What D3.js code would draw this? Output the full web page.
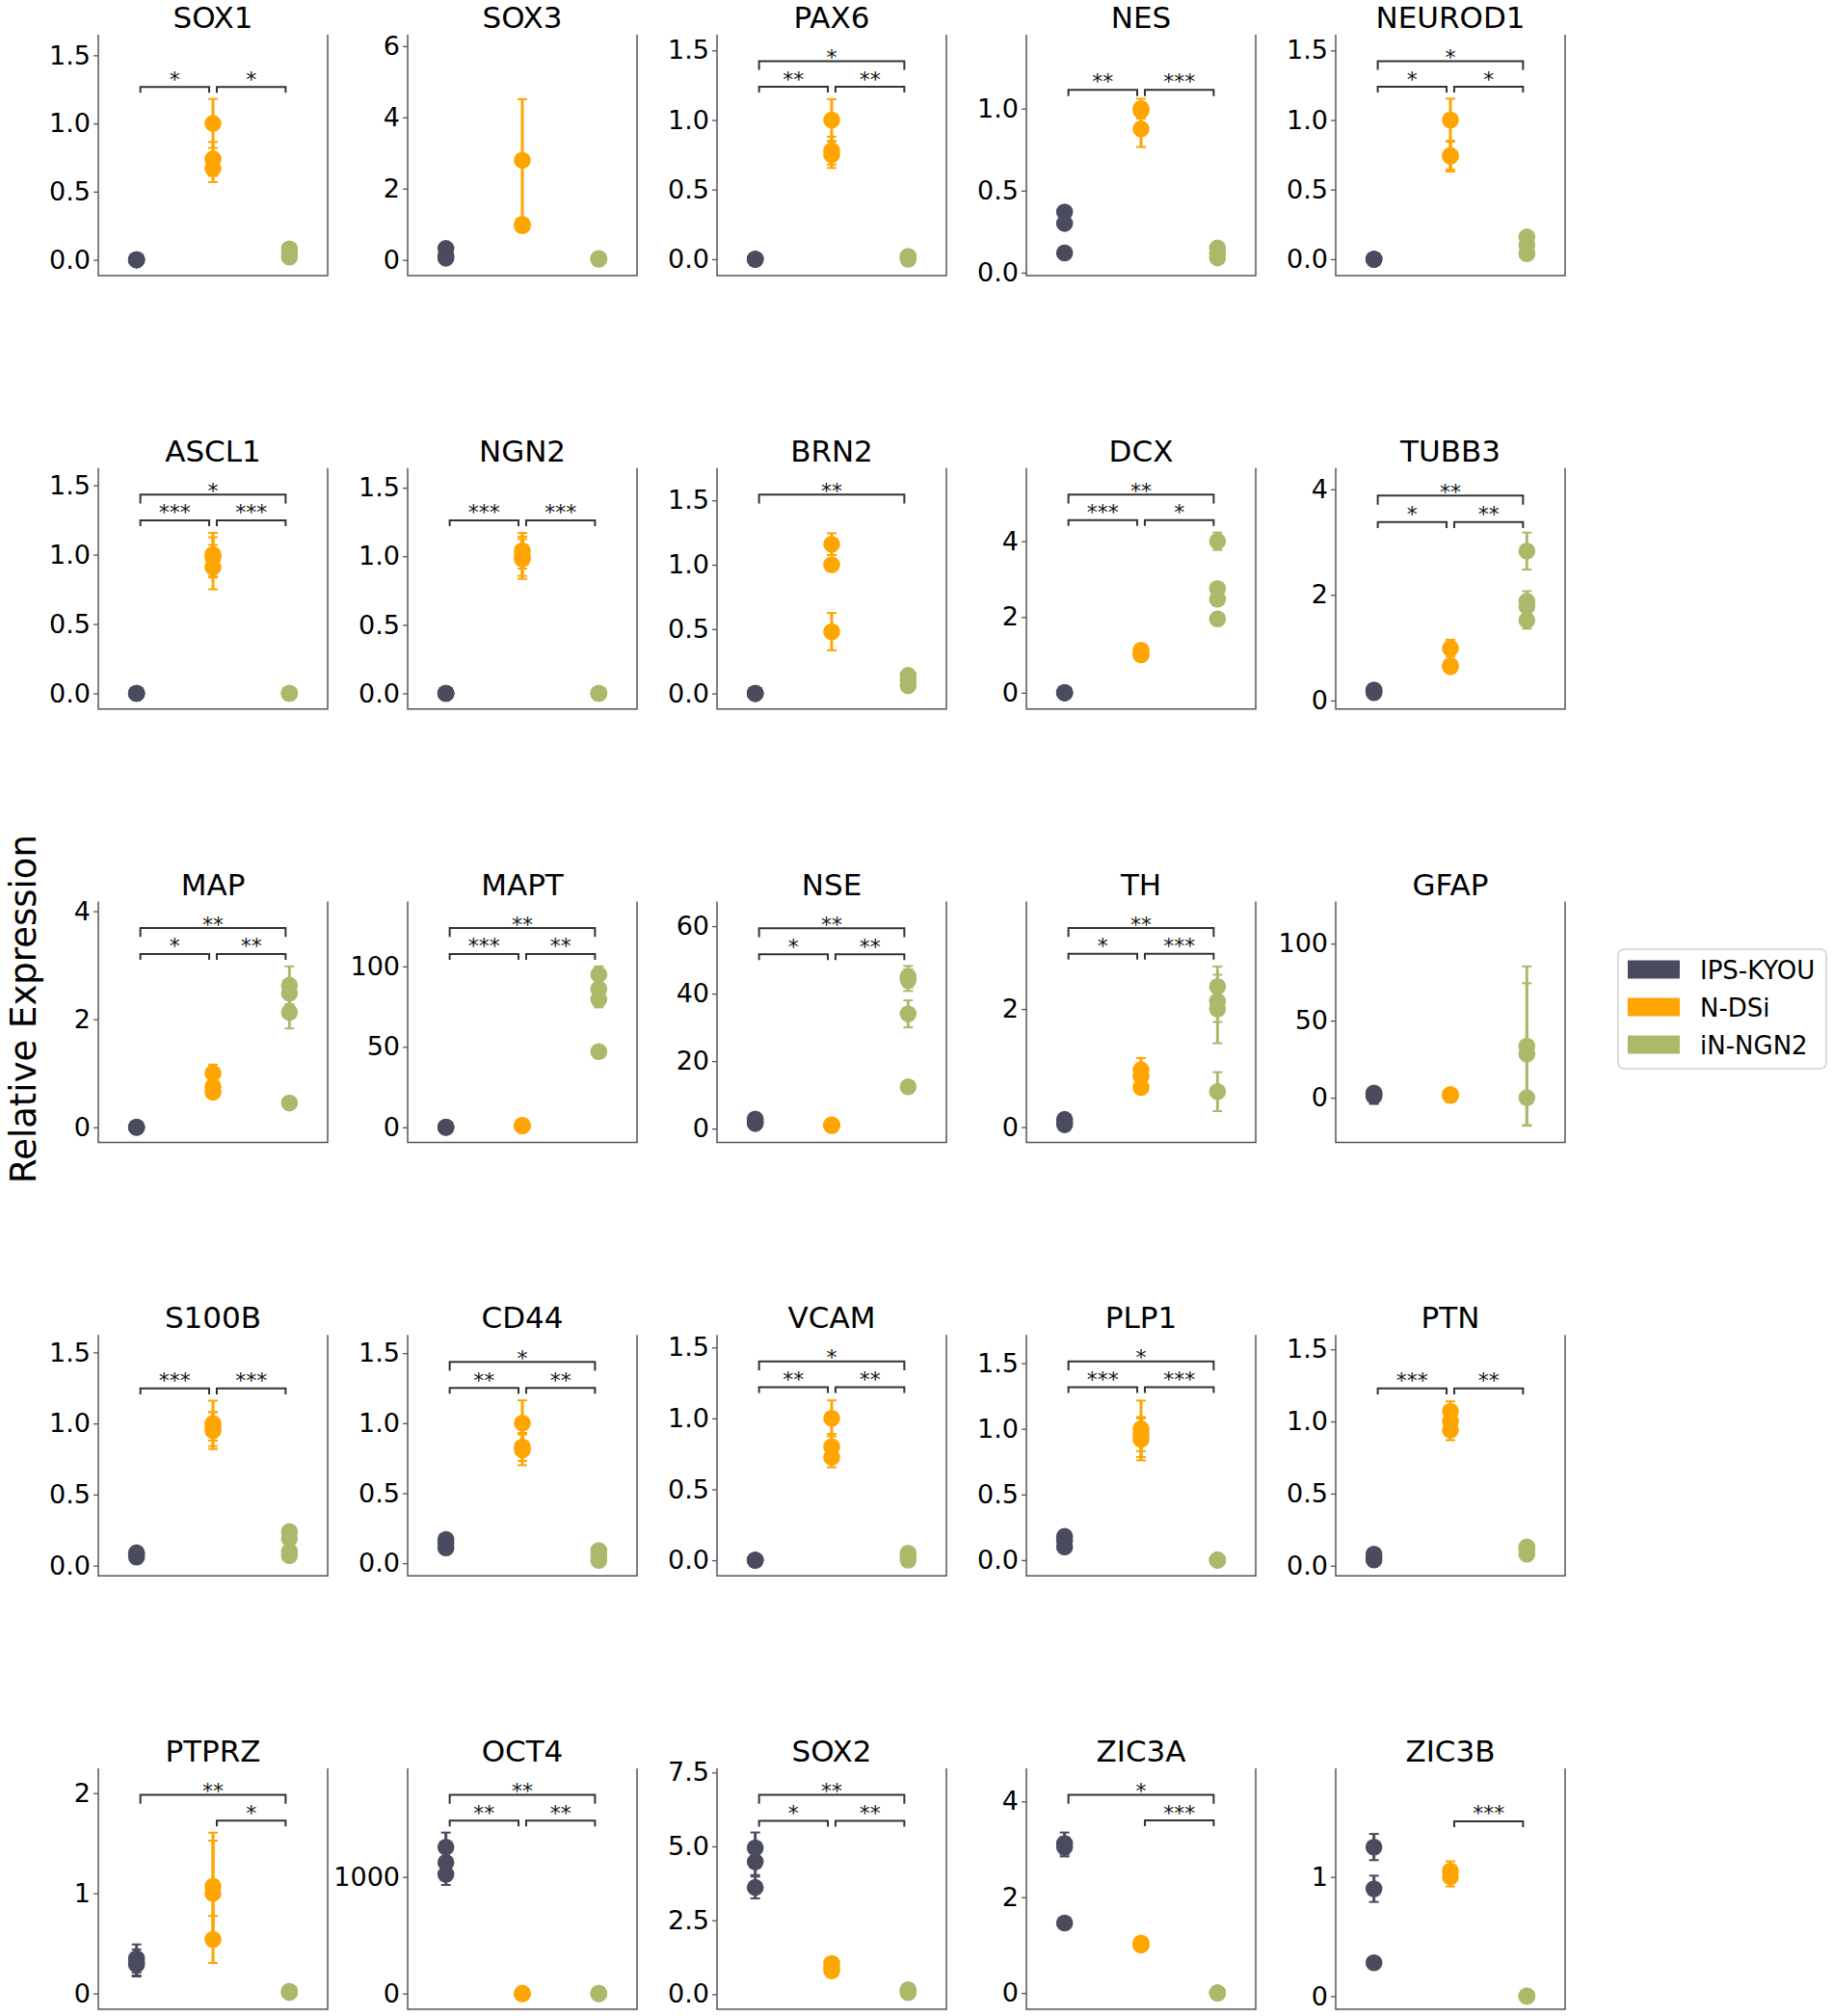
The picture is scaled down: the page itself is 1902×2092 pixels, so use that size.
<!DOCTYPE html>
<html><head><meta charset="utf-8">
<script src="https://cdn.jsdelivr.net/npm/d3@7"></script>
<style>body{margin:0;background:#fff}svg{display:block}</style>
</head><body>
<script>
// ---------------- data ----------------
const genes = ["SOX1","SOX3","PAX6","NES","NEUROD1",
  "ASCL1","NGN2","BRN2","DCX","TUBB3",
  "MAP","MAPT","NSE","TH","GFAP",
  "S100B","CD44","VCAM","PLP1","PTN",
  "PTPRZ","OCT4","SOX2","ZIC3A","ZIC3B"];
const groups = ["IPS-KYOU","N-DSi","iN-NGN2"];

const ipsVals = [[0,0,0],[0.05,0.1,0.32],[0,0,0],[0.37,0.3,0.12],[0,0,0],
  [0,0,0],[0,0,0],[0,0,0],[0,0,0],[0.15,0.18,0.2],
  [0,0,0],[0,0,0],[1.5,2.0,2.8],[0.04,0.08,0.13],[1,2,3],
  [0.06,0.08,0.09],[0.11,0.14,0.17],[0,0,0],[0.1,0.15,0.18],[0.04,0.06,0.08],
  [0.35,0.31,0.29],[1256,1124,1022],[4.95,4.48,3.61],[3.12,3.05,1.46],[1.25,0.9,0.28]];
const ipsErr = [[0,0,0],[0,0,0],[0,0,0],[0,0,0],[0,0,0],
  [0,0,0],[0,0,0],[0,0,0],[0,0,0],[0,0,0],
  [0,0,0],[0,0,0],[0,0,0],[0,0,0],[5,0,0],
  [0,0,0],[0,0,0],[0,0,0],[0,0,0],[0,0,0],
  [0.14,0.13,0.12],[124,20,91],[0.52,0.45,0.37],[0.23,0.2,0],[0.11,0.11,0]];

const ndsiVals = [[1.0,0.74,0.67],[2.8,0.96,1.0],[1.0,0.78,0.75],[1.0,0.99,0.876],[1.0,0.745,0.74],
  [1.0,0.98,0.91],[1.04,1.0,0.98],[1.16,1.0,0.48],[1.12,1.05,1.0],[0.99,0.64,0.66],
  [1.0,0.75,0.65],[1.2,1.0,0.9],[0.9,1.0,1.1],[0.97,0.86,0.67],[1.5,1.7,2.0],
  [1.0,0.98,0.95],[1.0,0.83,0.81],[1.0,0.8,0.725],[1.0,0.96,0.92],[1.07,1.0,0.94],
  [1.07,1.0,0.54],[0,0,0],[1.04,0.9,0.79],[1.02,1.0,1.04],[1.05,1.0]];
const ndsiErr = [[0.18,0.125,0.1],[1.71,0.05,0.05],[0.15,0.1,0.095],[0.06,0.05,0.11],[0.153,0.1,0.11],
  [0.157,0.145,0.16],[0.13,0.143,0.145],[0.085,0.02,0.145],[0.04,0.03,0.03],[0.16,0.03,0.03],
  [0.16,0.04,0.03],[0,0,0],[0,0,0],[0.2,0.05,0.05],[0,0,0],
  [0.16,0.1,0.13],[0.163,0.1,0.11],[0.127,0.09,0.07],[0.215,0.13,0.16],[0.07,0.05,0.07],
  [0.535,0.525,0.235],[0,0,0],[0,0,0],[0,0,0],[0.08,0.08]];

const ngn2Vals = [[0.02,0.05,0.08],[0.02,0.03,0.04],[0,0.01,0.02],[0.09,0.12,0.15],[0.04,0.1,0.16],
  [0,0,0],[0,0,0],[0.06,0.1,0.14],[4.0,2.75,2.47,1.95],[2.83,1.88,1.78,1.52],
  [2.63,2.48,2.13,0.45],[95,86,79.5,47],[45,44,34,12.4],[2.38,2.13,2.0,0.6],[33.5,28.3,0],
  [0.07,0.1,0.19,0.24],[0.02,0.05,0.09],[0,0.03,0.05],[0,0,0],[0.08,0.11,0.13],
  [0.01,0.02,0.02],[0,0,0],[0.05,0.1,0.15],[0,0,0],[0,0,0]];
const ngn2Err = [[0,0,0],[0,0,0],[0,0,0],[0,0,0],[0,0,0],
  [0,0,0],[0,0,0],[0,0,0],[0.23,0.05,0.05,0.05],[0.35,0.19,0.05,0.16],
  [0.35,0.1,0.3,0],[5,2,5,0],[3.2,3.2,4,0],[0.34,0.35,0.58,0.33],[51.7,46,0],
  [0,0,0,0],[0,0,0],[0,0,0],[0,0,0],[0,0,0],
  [0,0,0],[0,0,0],[0,0,0],[0,0,0],[0,0,0]];

const yLims = [[-0.116,1.651],[-0.44,6.32],[-0.118,1.613],[-0.018,1.451],[-0.118,1.613],
  [-0.113,1.624],[-0.114,1.643],[-0.121,1.751],[-0.43,5.93],[-0.161,4.40],
  [-0.28,4.18],[-9.4,140.3],[-4.1,67.3],[-0.26,3.82],[-29,127.3],
  [-0.072,1.623],[-0.09,1.63],[-0.11,1.588],[-0.12,1.715],[-0.07,1.6],
  [-0.157,2.247],[-135,1931],[-0.51,7.64],[-0.34,4.69],[-0.11,1.91]];
const yTicks = [[0,0.5,1,1.5],[0,2,4,6],[0,0.5,1,1.5],[0,0.5,1],[0,0.5,1,1.5],
  [0,0.5,1,1.5],[0,0.5,1,1.5],[0,0.5,1,1.5],[0,2,4],[0,2,4],
  [0,2,4],[0,50,100],[0,20,40,60],[0,2],[0,50,100],
  [0,0.5,1,1.5],[0,0.5,1,1.5],[0,0.5,1,1.5],[0,0.5,1,1.5],[0,0.5,1,1.5],
  [0,1,2],[0,1000],[0,2.5,5,7.5],[0,2,4],[0,1]];

// significance: group0 vs group1, group1 vs group2, group0 vs group2
const sig01 = ["*","","**","**","*", "***","***","","***","*", "*","***","*","*","", "***","**","**","***","***", "","**","*","",""];
const sig12 = ["*","","**","***","*", "***","***","","*","**", "**","**","**","***","", "***","**","**","***","**", "*","**","**","***","***"];
const sig02 = ["","","*","","*", "*","","**","**","**", "**","**","**","**","", "","*","*","*","", "**","**","**","*",""];

// ---------------- styles ----------------
const colors = ["#4b4b5f","#ffa500","#adb86b"];
const FONT = "DejaVu Sans, Liberation Sans, sans-serif";
const W = 1902, H = 2092;
const pw = 238, ph = 250;
const colX = i => 102 + 321*i;
const rowY = j => 36 + 449.75*j;

const svg = d3.select("body").append("svg").attr("width",W).attr("height",H)
  .style("font-family",FONT);
svg.append("rect").attr("width",W).attr("height",H).attr("fill","#fff");

const allVals = [ipsVals, ndsiVals, ngn2Vals];
const allErr = [ipsErr, ndsiErr, ngn2Err];

genes.forEach((gene, gi) => {
  const col = gi % 5, row = Math.floor(gi/5);
  const g = svg.append("g").attr("transform",`translate(${colX(col)},${rowY(row)})`);
  const x = d3.scaleLinear().domain([-0.5,2.5]).range([0,pw]);
  const y = d3.scaleLinear().domain(yLims[gi]).range([ph,0]);
  const ticks = yTicks[gi];
  const dec = ticks.some(t => !Number.isInteger(t)) ? 1 : 0;

  // y axis
  const ax = g.append("g").call(d3.axisLeft(y).tickValues(ticks)
      .tickFormat(d3.format(`.${dec}f`)).tickSize(5).tickPadding(3));
  ax.select(".domain").remove();
  ax.selectAll(".tick line").attr("stroke","#555").attr("stroke-width",1.3);
  ax.selectAll(".tick text").attr("font-size",27).attr("font-family",FONT).attr("fill","#000");

  // spines: left, bottom, right
  g.append("path").attr("d",`M0,0V${ph}H${pw}V0`).attr("fill","none")
    .attr("stroke","#555").attr("stroke-width",1.5);

  // title
  g.append("text").attr("x",pw/2).attr("y",-7).attr("text-anchor","middle")
    .attr("font-size",31).attr("fill","#000").text(gene);

  // points & error bars
  allVals.forEach((gv, k) => {
    const vals = gv[gi], errs = allErr[k][gi];
    const cx = x(k);
    vals.forEach((v, i) => {
      const e = errs[i] || 0;
      if (e > 0) {
        g.append("line").attr("x1",cx).attr("x2",cx).attr("y1",y(v-e)).attr("y2",y(v+e))
          .attr("stroke",colors[k]).attr("stroke-width",3);
        [v-e, v+e].forEach(t => g.append("line").attr("x1",cx-5).attr("x2",cx+5)
          .attr("y1",y(t)).attr("y2",y(t)).attr("stroke",colors[k]).attr("stroke-width",2));
      }
    });
    vals.forEach(v => {
      g.append("circle").attr("cx",cx).attr("cy",y(v)).attr("r",8.8).attr("fill",colors[k]);
    });
  });

  // significance brackets
  const M = yLims[gi][1]/1.4;
  const inset = 0.05;
  const bracket = (a, b, level, label) => {
    if (!label) return;
    const yb = level === 0 ? 1.075*M : 1.235*M;
    const drop = level === 0 ? 0.036*M : 0.055*M;
    const yt = level === 0 ? 1.152*M : 1.287*M;
    const x1 = x(a+inset), x2 = x(b-inset);
    g.append("path").attr("d",`M${x1},${y(yb-drop)}V${y(yb)}H${x2}V${y(yb-drop)}`)
      .attr("fill","none").attr("stroke","#333").attr("stroke-width",2);
    g.append("text").attr("x",(x1+x2)/2).attr("y",y(yt)+12.3).attr("text-anchor","middle")
      .attr("font-size",22).attr("fill","#111").text(label);
  };
  bracket(0,1,0,sig01[gi]);
  bracket(1,2,0,sig12[gi]);
  bracket(0,2,1,sig02[gi]);
});

// y label
svg.append("text").attr("transform","translate(37,1047) rotate(-90)")
  .attr("text-anchor","middle").attr("font-size",37).attr("fill","#000")
  .text("Relative Expression");

// legend
const lg = svg.append("g").attr("transform","translate(1679,985)");
lg.append("rect").attr("width",216).attr("height",124).attr("rx",6)
  .attr("fill","#fff").attr("stroke","#d0d0d0").attr("stroke-width",1.5);
groups.forEach((name, i) => {
  const cy = 21 + 39*i;
  lg.append("rect").attr("x",10).attr("y",cy-9.5).attr("width",54).attr("height",19).attr("fill",colors[i]);
  lg.append("text").attr("x",85).attr("y",cy+9.5).attr("font-size",26).attr("fill","#000").text(name);
});
</script>
</body></html>
